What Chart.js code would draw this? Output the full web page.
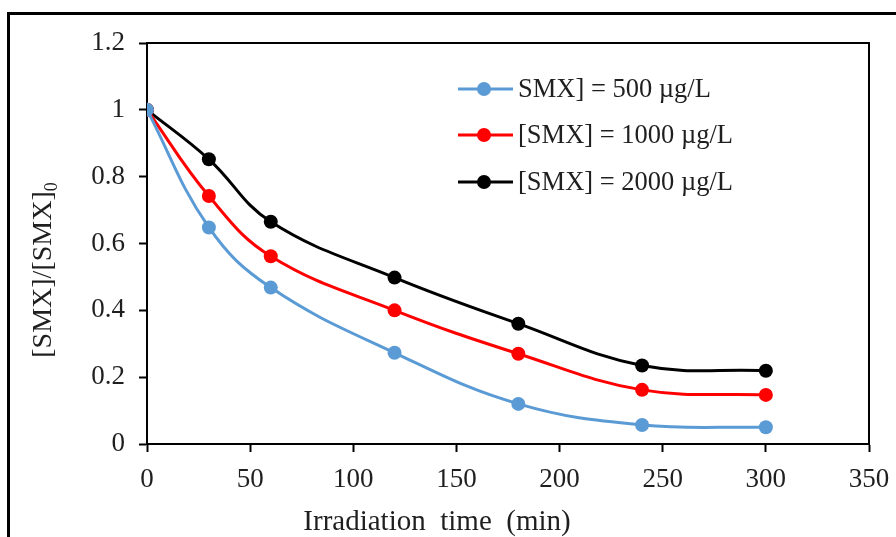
<!DOCTYPE html>
<html>
<head>
<meta charset="utf-8">
<script src="https://cdn.jsdelivr.net/npm/chart.js@4/dist/chart.umd.min.js"></script>
<style>
html,body{margin:0;padding:0;background:#fff;}
#wrap{width:896px;height:537px;position:relative;}
</style>
</head>
<body>
<div id="wrap"><canvas id="c" width="896" height="537"></canvas></div>
<script>
const times = [0, 30, 60, 120, 180, 240, 300];
const smx500 = [1, 0.648, 0.468, 0.273, 0.12, 0.057, 0.05];
const smx1000 = [1, 0.742, 0.562, 0.40, 0.27, 0.162, 0.147];
const smx2000 = [1, 0.852, 0.665, 0.498, 0.36, 0.235, 0.219];
const seriesLabels = ["SMX] = 500 \u00b5g/L", "[SMX] = 1000 \u00b5g/L", "[SMX] = 2000 \u00b5g/L"];
const seriesColors = ["#5B9BD5", "#FF0000", "#000000"];
const xTitle = "Irradiation  time  (min)";
const yTitleMain = "[SMX]/[SMX]";
const yTitleSub = "0";

const FONT = "'Liberation Serif', 'Times New Roman', serif";
const TEXT = "#1f1f1f";

function mk(vals, i) {
  return {
    label: seriesLabels[i],
    data: times.map((t, k) => ({x: t, y: vals[k]})),
    borderColor: seriesColors[i],
    backgroundColor: seriesColors[i],
    pointBackgroundColor: seriesColors[i],
    pointBorderColor: seriesColors[i],
    borderWidth: 3,
    pointRadius: 7,
    pointBorderWidth: 0,
    tension: 0.4,
    cubicInterpolationMode: 'default',
    fill: false
  };
}

const deco = {
  id: 'deco',
  beforeDraw(chart) {
    const ctx = chart.ctx;
    ctx.save();
    ctx.fillStyle = '#fff';
    ctx.fillRect(0, 0, chart.width, chart.height);
    ctx.strokeStyle = '#000';
    ctx.lineWidth = 3;
    ctx.strokeRect(8.5, 13.5, 1000, 1000);
    ctx.restore();
  },
  afterDraw(chart) {
    const ctx = chart.ctx;
    const a = chart.chartArea;
    ctx.save();
    // plot border (top and right)
    ctx.strokeStyle = '#000';
    ctx.lineWidth = 2;
    ctx.beginPath();
    ctx.moveTo(a.left, a.top);
    ctx.lineTo(a.right, a.top);
    ctx.lineTo(a.right, a.bottom);
    ctx.stroke();
    // legend
    ctx.font = "26.5px " + FONT;
    ctx.textBaseline = 'middle';
    ctx.textAlign = 'left';
    const rows = [89, 135, 182];
    chart.data.datasets.forEach((ds, i) => {
      const y = rows[i];
      ctx.strokeStyle = ds.borderColor;
      ctx.lineWidth = 3;
      ctx.beginPath();
      ctx.moveTo(458, y);
      ctx.lineTo(513, y);
      ctx.stroke();
      ctx.fillStyle = ds.borderColor;
      ctx.beginPath();
      ctx.arc(484, y, 7, 0, Math.PI * 2);
      ctx.fill();
      ctx.fillStyle = TEXT;
      ctx.fillText(ds.label, 518, y + 1);
    });
    // x title
    ctx.font = "29px " + FONT;
    ctx.textAlign = 'center';
    ctx.textBaseline = 'middle';
    ctx.fillStyle = TEXT;
    ctx.fillText(xTitle, 437, 522);
    // y title with subscript
    ctx.translate(44, 270);
    ctx.rotate(-Math.PI / 2);
    ctx.font = "28px " + FONT;
    const w1 = ctx.measureText(yTitleMain).width;
    ctx.font = "18px " + FONT;
    const w2 = ctx.measureText(yTitleSub).width;
    const tot = w1 + w2;
    ctx.textAlign = 'left';
    ctx.textBaseline = 'middle';
    ctx.font = "28px " + FONT;
    ctx.fillText(yTitleMain, -tot / 2, 0);
    ctx.font = "18px " + FONT;
    ctx.fillText(yTitleSub, -tot / 2 + w1, 8);
    ctx.restore();
  }
};

new Chart(document.getElementById('c'), {
  type: 'scatter',
  data: { datasets: [mk(smx500, 0), mk(smx1000, 1), mk(smx2000, 2)] },
  options: {
    responsive: false,
    animation: false,
    showLine: true,
    layout: { padding: { left: 0, top: 43, right: 27, bottom: 0 } },
    plugins: { legend: { display: false }, tooltip: { enabled: false } },
    scales: {
      x: {
        type: 'linear', min: 0, max: 350,
        ticks: { stepSize: 50, font: { family: FONT, size: 27 }, color: TEXT, padding: 12, maxRotation: 0 },
        grid: { drawOnChartArea: false, tickLength: 8, tickColor: '#000', tickWidth: 2 },
        border: { color: '#000', width: 2 },
        afterFit(s) { s.height = 93; s.paddingLeft = 0; s.paddingRight = 0; }
      },
      y: {
        type: 'linear', min: 0, max: 1.2,
        ticks: { stepSize: 0.2, font: { family: FONT, size: 27 }, color: TEXT, padding: 14,
                 callback: v => String(+v.toFixed(1)) },
        grid: { drawOnChartArea: false, tickLength: 8, tickColor: '#000', tickWidth: 2 },
        border: { color: '#000', width: 2 },
        afterFit(s) { s.width = 147; s.paddingTop = 0; s.paddingBottom = 0; }
      }
    }
  },
  plugins: [deco]
});
</script>
</body>
</html>
